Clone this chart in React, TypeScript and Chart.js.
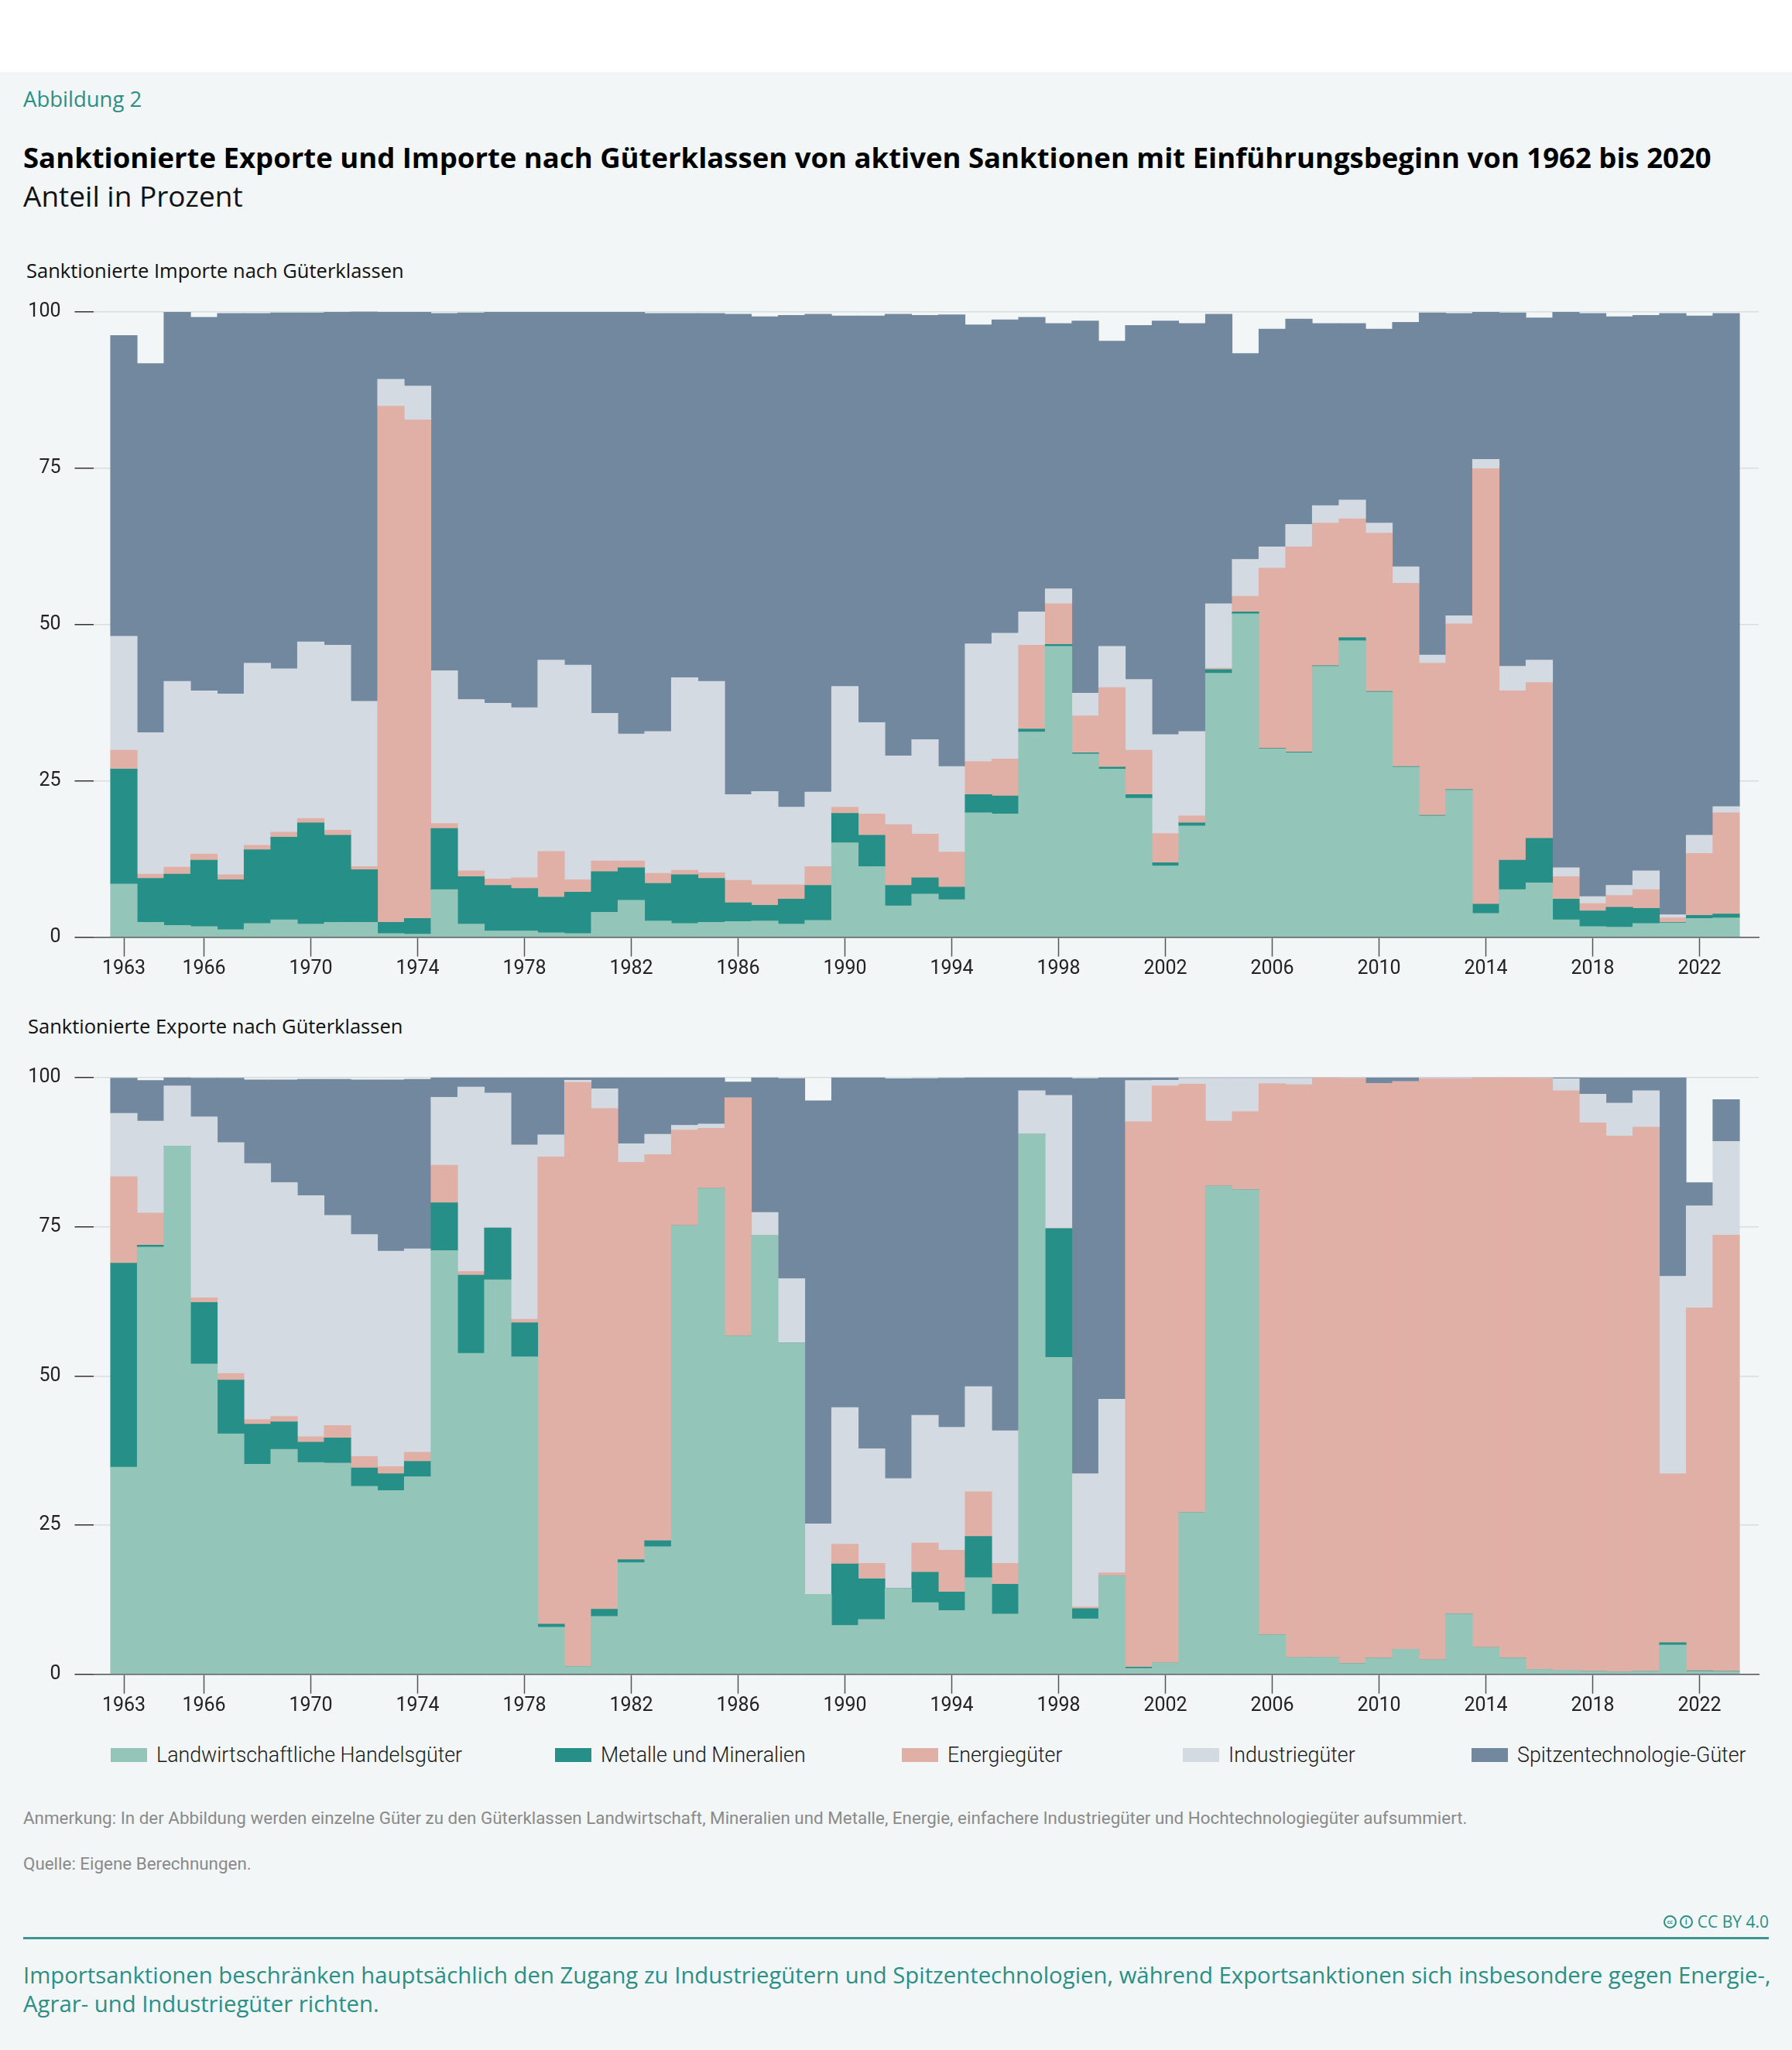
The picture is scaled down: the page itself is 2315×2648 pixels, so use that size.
import React, { useEffect, useRef } from "react";
import { Chart, registerables } from "chart.js";

Chart.register(...registerables);

// ---------- DATA ----------
const YEARS = [
  1963, 1964, 1965, 1966, 1967, 1968, 1969, 1970, 1971, 1972,
  1973, 1974, 1975, 1976, 1977, 1978, 1979, 1980, 1981, 1982,
  1983, 1984, 1985, 1986, 1987, 1988, 1989, 1990, 1991, 1992,
  1993, 1994, 1995, 1996, 1997, 1998, 1999, 2000, 2001, 2002,
  2003, 2004, 2005, 2006, 2007, 2008, 2009, 2010, 2011, 2012,
  2013, 2014, 2015, 2016, 2017, 2018, 2019, 2020, 2021, 2022,
  2023,
];

const X_TICKS = [1963, 1966, 1970, 1974, 1978, 1982, 1986, 1990, 1994, 1998, 2002, 2006, 2010, 2014, 2018, 2022];
const Y_TICKS = [0, 25, 50, 75, 100];

const SERIES_NAMES = [
  "Landwirtschaftliche Handelsgüter",
  "Metalle und Mineralien",
  "Energiegüter",
  "Industriegüter",
  "Spitzentechnologie-Güter",
];

// Sanktionierte Importe (Anteil in Prozent)
const IMP_AGRI = [
  8.5, 2.4, 1.9, 1.7, 1.2, 2.2, 2.8, 2.1, 2.4, 2.4,
  0.6, 0.5, 7.6, 2.1, 1.0, 1.0, 0.7, 0.6, 4.0, 5.9,
  2.6, 2.2, 2.4, 2.5, 2.6, 2.1, 2.7, 15.1, 11.3, 5.0,
  6.9, 6.0, 19.9, 19.7, 32.8, 46.5, 29.3, 26.9, 22.2, 11.4,
  17.8, 42.2, 51.7, 30.1, 29.5, 43.3, 47.4, 39.2, 27.2, 19.4,
  23.5, 3.8, 7.6, 8.7, 2.8, 1.7, 1.6, 2.2, 2.3, 3.0,
  3.1,
];
const IMP_METAL = [
  18.4, 7.0, 8.2, 10.6, 8.0, 11.8, 13.2, 16.2, 13.9, 8.4,
  1.8, 2.5, 9.8, 7.6, 7.3, 6.8, 5.7, 6.6, 6.5, 5.2,
  6.0, 7.8, 7.0, 3.0, 2.5, 4.0, 5.6, 4.7, 5.0, 3.3,
  2.6, 2.0, 2.9, 2.9, 0.5, 0.3, 0.2, 0.3, 0.6, 0.5,
  0.5, 0.6, 0.3, 0.1, 0.1, 0.1, 0.5, 0.1, 0.1, 0.1,
  0.1, 1.5, 4.7, 7.1, 3.3, 2.5, 3.2, 2.4, 0.1, 0.5,
  0.6,
];
const IMP_ENERGY = [
  3.0, 0.7, 1.1, 1.0, 0.8, 0.7, 0.8, 0.7, 0.8, 0.5,
  82.5, 79.7, 0.8, 0.9, 1.0, 1.7, 7.3, 2.0, 1.7, 1.1,
  1.6, 0.7, 0.9, 3.6, 3.3, 2.3, 3.0, 1.0, 3.4, 9.7,
  7.0, 5.6, 5.3, 5.9, 13.4, 6.5, 5.9, 12.7, 7.1, 4.7,
  1.1, 0.2, 2.5, 28.8, 32.8, 22.8, 19.0, 25.3, 29.3, 24.3,
  26.5, 69.6, 27.1, 24.9, 3.6, 1.2, 1.9, 3.0, 0.7, 9.9,
  16.2,
];
const IMP_INDUSTRY = [
  18.2, 22.6, 29.7, 26.1, 28.9, 29.1, 26.1, 28.2, 29.6, 26.4,
  4.3, 5.4, 24.4, 27.4, 28.1, 27.2, 30.6, 34.3, 23.6, 20.3,
  22.7, 30.8, 30.6, 13.7, 14.9, 12.4, 11.9, 19.3, 14.6, 11.0,
  15.1, 13.7, 18.8, 20.1, 5.3, 2.4, 3.6, 6.6, 11.3, 15.8,
  13.5, 10.3, 5.9, 3.4, 3.6, 2.8, 3.0, 1.6, 2.6, 1.3,
  1.3, 1.5, 3.9, 3.6, 1.4, 1.1, 1.6, 3.0, 0.5, 2.9,
  1.0,
];
const IMP_HIGHTECH = [
  48.1, 59.0, 59.0, 59.7, 60.8, 55.9, 56.9, 52.6, 53.2, 62.3,
  10.7, 11.8, 57.1, 61.8, 62.5, 63.2, 55.6, 56.4, 64.1, 67.4,
  66.8, 58.2, 58.8, 76.8, 75.9, 78.6, 76.4, 59.2, 65.0, 70.6,
  67.8, 72.2, 51.0, 50.1, 47.1, 42.4, 59.5, 48.8, 56.6, 66.1,
  65.2, 46.3, 32.9, 34.8, 32.8, 29.1, 28.2, 31.0, 39.1, 54.7,
  48.3, 23.5, 56.5, 54.7, 88.8, 93.2, 90.9, 88.8, 96.1, 83.0,
  78.8,
];

// Sanktionierte Exporte (Anteil in Prozent)
const EXP_AGRI = [
  34.7, 71.6, 88.5, 52.0, 40.3, 35.2, 37.7, 35.5, 35.4, 31.5,
  30.8, 33.1, 71.0, 53.8, 66.1, 53.2, 7.9, 1.3, 9.7, 18.7,
  21.4, 75.2, 81.4, 56.7, 73.5, 55.5, 13.4, 8.2, 9.2, 14.4,
  12.0, 10.7, 16.2, 10.1, 90.5, 53.1, 9.3, 16.5, 1.0, 1.9,
  27.1, 81.8, 81.2, 6.6, 2.8, 2.8, 1.8, 2.7, 4.2, 2.4,
  10.1, 4.5, 2.7, 0.8, 0.7, 0.5, 0.4, 0.5, 4.9, 0.5,
  0.45,
];
const EXP_METAL = [
  34.2, 0.3, 0, 10.3, 9.0, 6.7, 4.6, 3.4, 4.2, 3.1,
  2.8, 2.6, 8.0, 13.1, 8.7, 5.7, 0.5, 0, 1.2, 0.5,
  1.0, 0, 0, 0, 0, 0, 0, 10.3, 6.8, 0,
  5.1, 3.1, 6.9, 5.0, 0, 21.6, 1.7, 0, 0.2, 0,
  0, 0, 0, 0, 0, 0, 0, 0, 0, 0,
  0, 0, 0, 0, 0, 0, 0, 0, 0.4, 0.1,
  0.05,
];
const EXP_ENERGY = [
  14.5, 5.4, 0, 0.8, 1.1, 0.8, 0.9, 0.9, 2.1, 1.9,
  1.2, 1.5, 6.3, 0.6, 0, 0.6, 78.3, 97.9, 83.9, 66.6,
  64.7, 16.0, 10.1, 39.9, 0, 0, 0, 3.3, 2.6, 0,
  4.9, 7.0, 7.5, 3.5, 0, 0, 0.3, 0.5, 91.4, 96.7,
  71.8, 10.9, 13.1, 92.4, 96.0, 97.2, 98.1, 96.3, 95.1, 97.45,
  89.75, 95.5, 97.3, 99.1, 97.1, 91.9, 89.8, 91.2, 28.3, 60.8,
  73.1,
];
const EXP_INDUSTRY = [
  10.6, 15.4, 10.1, 30.3, 38.7, 42.9, 39.2, 40.4, 35.2, 37.2,
  36.1, 34.1, 11.4, 30.9, 22.6, 29.2, 3.7, 0.35, 3.3, 3.1,
  3.4, 0.8, 0.7, 0, 3.9, 10.8, 11.8, 22.9, 19.2, 18.4,
  21.4, 20.6, 17.6, 22.2, 7.3, 22.3, 22.3, 29.1, 6.9, 0.95,
  1.0, 7.2, 5.6, 0.9, 1.1, 0, 0.1, 0, 0, 0.1,
  0.1, 0, 0, 0, 2.0, 4.8, 5.5, 6.1, 33.1, 17.1,
  15.7,
];
const EXP_HIGHTECH = [
  5.9, 6.8, 1.4, 6.5, 10.8, 14.0, 17.2, 19.5, 22.8, 25.9,
  28.7, 28.4, 3.3, 1.6, 2.6, 11.3, 9.6, 0.45, 1.9, 11.1,
  9.5, 8.0, 7.8, 2.65, 22.6, 33.55, 70.9, 55.3, 62.2, 67.0,
  56.45, 58.5, 51.8, 59.2, 2.2, 3.0, 66.25, 53.9, 0.5, 0.45,
  0.1, 0.1, 0.1, 0.1, 0.1, 0, 0, 1.0, 0.7, 0.05,
  0.05, 0, 0, 0.1, 0.2, 2.8, 4.3, 2.2, 33.3, 3.9,
  7.0,
];

const IMPORT_SERIES = [IMP_AGRI, IMP_METAL, IMP_ENERGY, IMP_INDUSTRY, IMP_HIGHTECH];
const EXPORT_SERIES = [EXP_AGRI, EXP_METAL, EXP_ENERGY, EXP_INDUSTRY, EXP_HIGHTECH];

// ---------- STYLE ----------
const COLORS = ["#94c5b9", "#268f87", "#e0afa6", "#d4dae2", "#71889f"];
const BG = "#f2f6f6";
const TEAL = "#2b8f86";
const ROBOTO = "Roboto, 'Noto Sans', sans-serif";
const OPEN = "'Open Sans', 'Noto Sans', sans-serif";
const LEGEND_X = [143, 717, 1165, 1528, 1901];

const X_MIN = 1961.855;
const X_MAX = 2024.217;

type ChartProps = {
  series: number[][];
  top: number;
  height: number;
  padTop: number;
  xAxisHeight: number;
};

function StackedChart({ series, top, height, padTop, xAxisHeight }: ChartProps) {
  const ref = useRef<HTMLCanvasElement | null>(null);

  useEffect(() => {
    if (!ref.current) return;
    const datasets = series.map((vals, si) => ({
      label: SERIES_NAMES[si],
      data: YEARS.map((yr, i) => ({ x: yr, y: vals[i] })),
      backgroundColor: COLORS[si],
      borderWidth: 0,
      barPercentage: 1,
      categoryPercentage: 1,
    }));
    const chart = new Chart(ref.current, {
      type: "bar",
      data: { datasets },
      options: {
        animation: false,
        responsive: false,
        devicePixelRatio: 1,
        layout: { padding: { top: padTop, right: 43, bottom: 0, left: 0 } },
        plugins: { legend: { display: false }, tooltip: { enabled: false }, title: { display: false } },
        scales: {
          x: {
            type: "linear",
            min: X_MIN,
            max: X_MAX,
            bounds: "data",
            offset: false,
            stacked: true,
            afterBuildTicks: (s: any) => {
              s.ticks = X_TICKS.map((v) => ({ value: v }));
            },
            afterFit: (s: any) => {
              s.height = xAxisHeight;
            },
            grid: {
              display: true,
              offset: false,
              drawOnChartArea: false,
              drawTicks: true,
              tickLength: 25,
              tickColor: "#555",
              tickWidth: 1.5,
            },
            border: { display: true, color: "#555", width: 1.5 },
            ticks: {
              autoSkip: false,
              maxRotation: 0,
              minRotation: 0,
              padding: 1,
              color: "#222",
              font: { family: ROBOTO, size: 25 },
              callback: (v: any) => String(v),
            },
          },
          y: {
            min: 0,
            max: 100,
            stacked: true,
            afterBuildTicks: (s: any) => {
              s.ticks = Y_TICKS.map((v) => ({ value: v }));
            },
            afterFit: (s: any) => {
              s.width = 120.5;
            },
            grid: {
              color: "#d8dddd",
              lineWidth: 1.5,
              drawTicks: true,
              tickLength: 24,
              tickColor: "#333",
              tickWidth: 1.5,
            },
            border: { display: false },
            ticks: {
              padding: 18,
              color: "#222",
              font: { family: ROBOTO, size: 25 },
              callback: (v: any) => String(v),
            },
          },
        },
      } as any,
    });
    return () => chart.destroy();
  }, [series, top, height, padTop, xAxisHeight]);

  return (
    <canvas
      ref={ref}
      width={2315}
      height={height}
      style={{ position: "absolute", left: 0, top, width: 2315, height }}
    />
  );
}

function Txt(props: {
  x: number;
  baseline: number;
  size: number;
  color?: string;
  weight?: number | string;
  family?: string;
  children: React.ReactNode;
}) {
  const { x, baseline, size, color = "#111", weight = 400, family = ROBOTO, children } = props;
  const ratio = family === OPEN ? 0.888 : 0.8415;
  const top = baseline - ratio * size;
  return (
    <div
      style={{
        position: "absolute",
        left: x,
        top,
        fontSize: size,
        lineHeight: `${size}px`,
        fontFamily: family,
        fontWeight: weight as any,
        color,
        whiteSpace: "nowrap",
      }}
    >
      {children}
    </div>
  );
}

export default function App() {
  return (
    <div
      style={{
        position: "absolute",
        left: 0,
        top: 0,
        width: 2315,
        height: 2648,
        background: BG,
        overflow: "hidden",
        fontFamily: ROBOTO,
      }}
    >
      <div style={{ position: "absolute", left: 0, top: 0, width: 2315, height: 93, background: "#ffffff" }} />

      <Txt x={30} baseline={138} size={27.5} color={TEAL} family={OPEN}>
        Abbildung 2
      </Txt>
      <Txt x={30} baseline={217} size={36.5} weight={700} color="#000" family={OPEN}>
        Sanktionierte Exporte und Importe nach Güterklassen von aktiven Sanktionen mit Einführungsbeginn von 1962 bis 2020
      </Txt>
      <Txt x={30} baseline={267} size={37} weight={400} color="#111" family={OPEN}>
        Anteil in Prozent
      </Txt>

      <Txt x={34} baseline={360} size={25.5} color="#111" family={OPEN}>
        Sanktionierte Importe nach Güterklassen
      </Txt>
      <StackedChart series={IMPORT_SERIES} top={369} height={906} padTop={33.5} xAxisHeight={64.4} />

      <Txt x={36} baseline={1336} size={25.5} color="#111" family={OPEN}>
        Sanktionierte Exporte nach Güterklassen
      </Txt>
      <StackedChart series={EXPORT_SERIES} top={1358} height={872} padTop={33.8} xAxisHeight={67.3} />

      {SERIES_NAMES.map((name, i) => (
        <div
          key={name}
          style={{
            position: "absolute",
            left: LEGEND_X[i],
            top: 2249,
            height: 36,
            display: "flex",
            alignItems: "center",
          }}
        >
          <span
            style={{
              display: "inline-block",
              width: 47,
              height: 18,
              background: COLORS[i],
              marginRight: 12,
            }}
          />
          <span style={{ fontSize: 26.8, fontFamily: ROBOTO, fontWeight: 300, color: "#1a1a1a", whiteSpace: "nowrap" }}>
            {name}
          </span>
        </div>
      ))}

      <Txt x={30} baseline={2356} size={22.4} color="#8a8a8a">
        Anmerkung: In der Abbildung werden einzelne Güter zu den Güterklassen Landwirtschaft, Mineralien und Metalle, Energie, einfachere Industriegüter und Hochtechnologiegüter aufsummiert.
      </Txt>
      <Txt x={30} baseline={2415} size={22.4} color="#8a8a8a">
        Quelle: Eigene Berechnungen.
      </Txt>

      <div
        style={{
          position: "absolute",
          right: 2315 - 2285,
          top: 2470,
          height: 24,
          display: "flex",
          alignItems: "center",
          gap: 4,
          color: TEAL,
          fontFamily: OPEN,
          fontSize: 21,
          whiteSpace: "nowrap",
        }}
      >
        <span
          style={{
            display: "inline-flex",
            alignItems: "center",
            justifyContent: "center",
            width: 13,
            height: 13,
            border: `2px solid ${TEAL}`,
            borderRadius: "50%",
            fontSize: 7,
            fontWeight: 700,
          }}
        >
          cc
        </span>
        <span
          style={{
            display: "inline-flex",
            alignItems: "center",
            justifyContent: "center",
            width: 13,
            height: 13,
            border: `2px solid ${TEAL}`,
            borderRadius: "50%",
            fontSize: 10,
            fontWeight: 700,
          }}
        >
          i
        </span>
        <span style={{ marginLeft: 2 }}>CC BY 4.0</span>
      </div>
      <div style={{ position: "absolute", left: 30, top: 2501.5, width: 2255, height: 3, background: "#3d958d" }} />

      <div
        style={{
          position: "absolute",
          left: 30,
          top: 2532.6,
          fontSize: 29.3,
          lineHeight: "37px",
          fontFamily: OPEN,
          color: TEAL,
          whiteSpace: "nowrap",
        }}
      >
        Importsanktionen beschränken hauptsächlich den Zugang zu Industriegütern und Spitzentechnologien, während Exportsanktionen sich insbesondere gegen Energie-,
        <br />
        Agrar- und Industriegüter richten.
      </div>
    </div>
  );
}
